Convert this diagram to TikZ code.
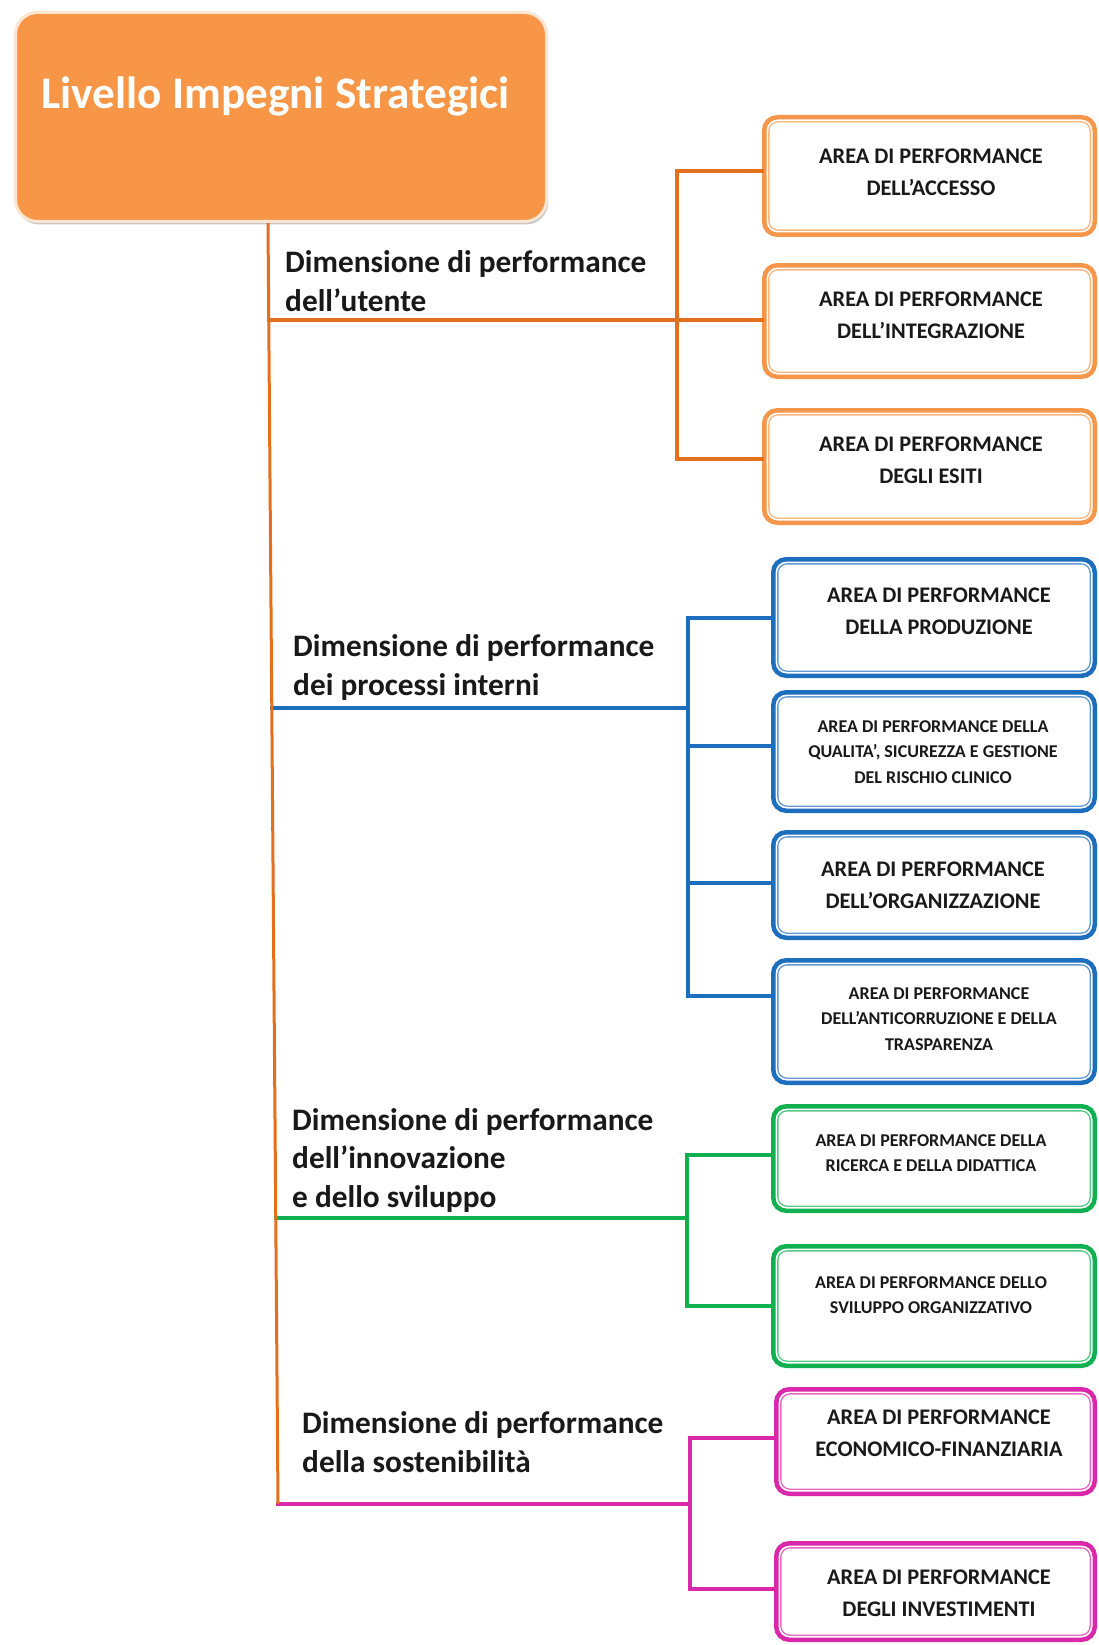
\documentclass[tikz,border=0pt]{standalone}
\usepackage{fontspec}
\setmainfont{Carlito}
\usetikzlibrary{shadows,calc}

\definecolor{orgfill}{RGB}{247,150,70}
\definecolor{orgline}{RGB}{228,112,30}
\definecolor{orgbox}{RGB}{245,150,75}
\definecolor{bluec}{RGB}{30,110,190}
\definecolor{greenc}{RGB}{16,176,80}
\definecolor{magc}{RGB}{218,40,170}
\definecolor{txt}{RGB}{25,25,25}

\tikzset{
  abox/.style={draw=#1, line width=4.5pt, rounded corners=13pt, fill=white, inner sep=0pt,
    path picture={\draw[#1!70!white, line width=1.3pt, rounded corners=9pt]
      ([shift={(4.6pt,-4.6pt)}]path picture bounding box.north west) rectangle
      ([shift={(-4.6pt,4.6pt)}]path picture bounding box.south east);}},
  topbox/.style={fill=orgfill, draw=orgfill!25!white, line width=3pt, rounded corners=22pt,
    drop shadow={shadow xshift=1.5pt, shadow yshift=-3pt, opacity=0.45}, inner sep=0pt},
  bigtxt/.style={align=center, text=txt, font=\fontsize{22.3}{32}\selectfont\bfseries, inner sep=0pt},
  smalltxt/.style={align=center, text=txt, font=\fontsize{18}{25.5}\selectfont\bfseries, inner sep=0pt},
  dimtxt/.style={align=left, text=txt, font=\fontsize{31.3}{38.5}\selectfont\bfseries, inner sep=0pt, anchor=base west},
  conn/.style={draw=#1, line width=3.5pt, line cap=rect},
}

\begin{document}
\begin{tikzpicture}[x=1pt,y=-1pt]
\useasboundingbox (0,0) rectangle (1098,1645);
\fill[white] (0,0) rectangle (1098,1645);

% top box
\node[topbox, minimum width=531pt, minimum height=209pt] (top) at (281,117) {};
\node[anchor=base, text=white, font=\fontsize{45.2}{50}\selectfont\bfseries, inner sep=0pt] (title) at (275.5,109) {Livello Impegni Strategici};

% trunk coordinates
\coordinate (tt) at (268,226);
\coordinate (d1) at (269,320);
\coordinate (d2) at (272,708);
\coordinate (d3) at (276,1218);
\coordinate (d4) at (278,1504);

% boxes
\node[abox=orgbox, minimum width=330.5pt, minimum height=117.5pt] (o1) at (929.5,176) {};
\node[abox=orgbox, minimum width=330.5pt, minimum height=111.5pt] (o2) at (929.5,321) {};
\node[abox=orgbox, minimum width=330.5pt, minimum height=112.5pt] (o3) at (929.5,466.5) {};

\node[abox=bluec, minimum width=321.5pt, minimum height=116.5pt] (b1) at (934,617.5) {};
\node[abox=bluec, minimum width=321.5pt, minimum height=118.5pt] (b2) at (934,751.5) {};
\node[abox=bluec, minimum width=321.5pt, minimum height=105.5pt] (b3) at (934,885) {};
\node[abox=bluec, minimum width=321.5pt, minimum height=122.5pt] (b4) at (934,1021.5) {};

\node[abox=greenc, minimum width=321.5pt, minimum height=104.5pt] (g1) at (934,1158.5) {};
\node[abox=greenc, minimum width=321.5pt, minimum height=119.5pt] (g2) at (934,1306) {};

\node[abox=magc, minimum width=318.5pt, minimum height=104.5pt] (m1) at (935.5,1441.5) {};
\node[abox=magc, minimum width=318.5pt, minimum height=96.5pt] (m2) at (935.5,1591.5) {};

% box texts
\node[bigtxt] (o1t) at (931,172) {AREA DI PERFORMANCE\\DELL’ACCESSO};
\node[bigtxt] (o2t) at (931,315) {AREA DI PERFORMANCE\\DELL’INTEGRAZIONE};
\node[bigtxt] (o3t) at (931,460) {AREA DI PERFORMANCE\\DEGLI ESITI};
\node[bigtxt] (b1t) at (939,611) {AREA DI PERFORMANCE\\DELLA PRODUZIONE};
\node[smalltxt] (b2t) at (933,752) {AREA DI PERFORMANCE DELLA\\QUALITA’, SICUREZZA E GESTIONE\\DEL RISCHIO CLINICO};
\node[bigtxt] (b3t) at (933,885) {AREA DI PERFORMANCE\\DELL’ORGANIZZAZIONE};
\node[smalltxt] (b4t) at (939,1019) {AREA DI PERFORMANCE\\DELL’ANTICORRUZIONE E DELLA\\TRASPARENZA};
\node[smalltxt] (g1t) at (931,1153) {AREA DI PERFORMANCE DELLA\\RICERCA E DELLA DIDATTICA};
\node[smalltxt] (g2t) at (931,1295) {AREA DI PERFORMANCE DELLO\\SVILUPPO ORGANIZZATIVO};
\node[bigtxt] (m1t) at (939,1433) {AREA DI PERFORMANCE\\ECONOMICO-FINANZIARIA};
\node[bigtxt] (m2t) at (939,1593) {AREA DI PERFORMANCE\\DEGLI INVESTIMENTI};

% dimension labels (base = last line baseline)
\node[dimtxt] (l1) at (285,311) {Dimensione di performance\\dell’utente};
\node[dimtxt] (l2) at (293,695) {Dimensione di performance\\dei processi interni};
\node[dimtxt] (l3) at (292,1207) {Dimensione di performance\\dell’innovazione\\e dello sviluppo};
\node[dimtxt] (l4) at (302,1472) {Dimensione di performance\\della sostenibilità};

% bracket coordinates
\coordinate (ob1) at (677,171);
\coordinate (ob2) at (677,320);
\coordinate (ob3) at (677,459);
\coordinate (bb1) at (688,618);
\coordinate (bb2) at (688,746);
\coordinate (bb3) at (688,883);
\coordinate (bb4) at (688,996);
\coordinate (gb1) at (687,1155);
\coordinate (gb2) at (687,1306);
\coordinate (mb1) at (690,1438);
\coordinate (mb2) at (690,1589);

% orange group
\draw[conn=orgline] (ob1 -| o1.west) -- (ob1) -- (ob3) -- (ob3 -| o3.west);
\draw[conn=orgline] (d1) -- (ob2 -| o2.west);
% blue group
\draw[conn=bluec] (bb1 -| b1.west) -- (bb1) -- (bb4) -- (bb4 -| b4.west);
\draw[conn=bluec] (bb2) -- (bb2 -| b2.west);
\draw[conn=bluec] (bb3) -- (bb3 -| b3.west);
\draw[conn=bluec] (d2) -- (d2 -| bb1);
% green group
\draw[conn=greenc] (gb1 -| g1.west) -- (gb1) -- (gb2) -- (gb2 -| g2.west);
\draw[conn=greenc] (d3) -- (d3 -| gb1);
% magenta group
\draw[conn=magc] (mb1 -| m1.west) -- (mb1) -- (mb2) -- (mb2 -| m2.west);
\draw[conn=magc] (d4) -- (d4 -| mb1);

% trunk
\draw[draw=orgline, line width=3pt] (top.south -| tt) -- (d4);
\end{tikzpicture}
\end{document}
